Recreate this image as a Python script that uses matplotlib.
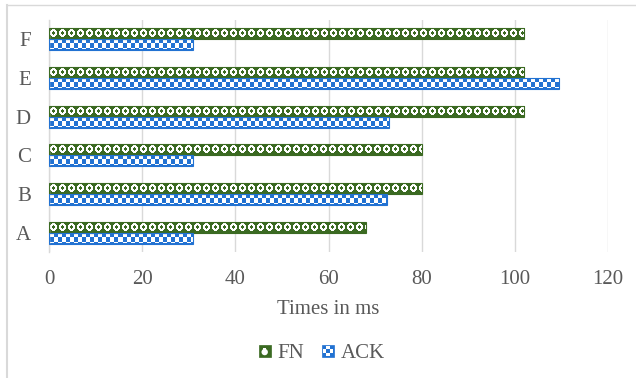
import numpy as np
import matplotlib
matplotlib.use("Agg")
import matplotlib.pyplot as plt
from matplotlib.patches import Rectangle, Circle
from matplotlib.legend_handler import HandlerBase
from matplotlib.lines import Line2D

# ---- data ----
categories = ["A", "B", "C", "D", "E", "F"]
fn_times = [68, 80, 80, 102, 102, 102]
ack_times = [31, 72.5, 31, 73, 109.5, 31]
x_ticks = [0, 20, 40, 60, 80, 100, 120]
series_names = ["FN", "ACK"]

GREEN = np.array([0x3B, 0x6A, 0x22]) / 255
BLUE = np.array([0x22, 0x72, 0xD2]) / 255
WHITE = np.array([1.0, 1.0, 1.0])
TEXT = "#595959"
GRID = "#D9D9D9"

plt.rcParams["font.family"] = ["Liberation Serif", "DejaVu Serif"]

W, H = 636, 378
fig = plt.figure(figsize=(W / 100, H / 100), dpi=100)
ax = fig.add_axes([49 / W, 1 - 252 / H, (608 - 49) / W, (252 - 20) / H])


def fn_texture(w, h):
    img = np.empty((h, w, 3))
    img[:] = GREEN
    yy, xx = np.mgrid[0:h, 0:w]
    period = 9
    cx = (xx % period) - (period - 1) / 2
    cy = yy - (h - 1) / 2
    r = min(3.4, (h - 4) / 2 + 0.4)
    img[(cx ** 2 + cy ** 2) <= r ** 2] = WHITE
    # small green diamond in the middle of each white ring
    img[(np.abs(cx) + np.abs(cy)) <= 1.0] = GREEN
    return img


def ack_texture(w, h):
    img = np.empty((h, w, 3))
    img[:] = BLUE
    yy, xx = np.mgrid[0:h, 0:w]
    cell = 4
    inner = (yy >= 1) & (yy < h - 1) & (xx >= 1) & (xx < w - 1)
    chk = (((xx - 1) // cell) + ((yy - 1) // cell)) % 2 == 0
    img[inner & chk] = WHITE
    return img


y = np.arange(len(categories))
bh = 0.285
bars_fn = ax.barh(y + bh / 2, fn_times, height=bh, color="none",
                  edgecolor=GREEN, linewidth=0.8, zorder=3)
bars_ack = ax.barh(y - bh / 2, ack_times, height=bh, color="none",
                   edgecolor=BLUE, linewidth=0.8, zorder=3)

ax.set_xlim(0, 120)
ax.set_ylim(-0.5, len(categories) - 0.5)

# fill every bar with its pattern, clipped to the bar shape
for bars, tex in ((bars_fn, fn_texture), (bars_ack, ack_texture)):
    for bar in bars:
        bb = bar.get_window_extent()
        w = max(int(round(bb.width)), 1)
        h = max(int(round(bb.height)), 1)
        x0, y0 = bar.get_x(), bar.get_y()
        im = ax.imshow(tex(w, h), extent=(x0, x0 + bar.get_width(), y0, y0 + bar.get_height()),
                       aspect="auto", interpolation="nearest", origin="upper", zorder=2)
        im.set_clip_path(bar)

ax.set_xlim(0, 120)
ax.set_ylim(-0.5, len(categories) - 0.5)

ax.set_xticks(x_ticks)
ax.set_yticks(y)
ax.set_yticklabels(categories)
ax.tick_params(axis="both", length=0, labelsize=15, labelcolor=TEXT)
ax.tick_params(axis="x", pad=13)
ax.tick_params(axis="y", pad=13)
ax.grid(axis="x", color=GRID, linewidth=1, zorder=0)
ax.set_axisbelow(True)
for s in ("top", "right", "bottom"):
    ax.spines[s].set_visible(False)
ax.spines["left"].set_color(GRID)
ax.spines["left"].set_linewidth(1)
ax.set_xlabel("Times in ms", fontsize=15, color=TEXT, labelpad=8)


class TextureHandler(HandlerBase):
    def __init__(self, kind):
        super().__init__()
        self.kind = kind

    def create_artists(self, legend, orig_handle, xdescent, ydescent,
                       width, height, fontsize, trans):
        s = height
        x0 = -xdescent + (width - s) / 2
        y0 = -ydescent
        arts = []
        if self.kind == "FN":
            arts.append(Rectangle((x0, y0), s, s, facecolor=GREEN, edgecolor=GREEN,
                                  linewidth=0.5, transform=trans))
            arts.append(Circle((x0 + s * 0.5, y0 + s * 0.42), s * 0.27,
                               facecolor="white", edgecolor="none", transform=trans))
            arts.append(Rectangle((x0 + s * 0.35, y0 + s * 0.55), s * 0.3, s * 0.25,
                                  facecolor="white", edgecolor="none", transform=trans))
        else:
            arts.append(Rectangle((x0, y0), s, s, facecolor=BLUE, edgecolor=BLUE,
                                  linewidth=0.5, transform=trans))
            n = 3
            c = s * 0.84 / n
            for i in range(n):
                for j in range(n):
                    if (i + j) % 2 == 1:
                        arts.append(Rectangle((x0 + s * 0.08 + i * c, y0 + s * 0.08 + j * c), c, c,
                                              facecolor="white", edgecolor="none", transform=trans))
        return arts


h_fn = Line2D([], [])
h_ack = Line2D([], [])
leg = fig.legend([h_fn, h_ack], series_names, loc="center",
                 bbox_to_anchor=(322 / W, 1 - 354 / H), ncol=2, frameon=False,
                 fontsize=15, labelcolor=TEXT, handlelength=0.5, handleheight=0.5,
                 handletextpad=0.35, columnspacing=0.9,
                 handler_map={h_fn: TextureHandler("FN"), h_ack: TextureHandler("ACK")})

# thin frame lines along the left and top edges of the figure
fig.add_artist(Line2D([7 / W, 7 / W], [0, 1 - 5 / H], transform=fig.transFigure,
                      color=GRID, linewidth=1.5))
fig.add_artist(Line2D([7 / W, 1], [1 - 5 / H, 1 - 5 / H], transform=fig.transFigure,
                      color=GRID, linewidth=1))

fig.savefig("out.png", dpi=100)
